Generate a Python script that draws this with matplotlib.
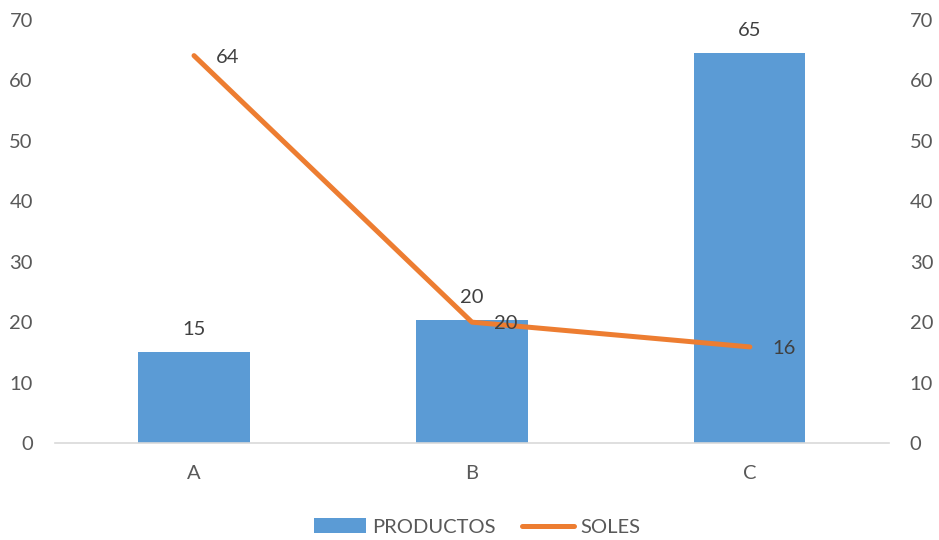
import matplotlib.pyplot as plt
import numpy as np

plt.rcParams['font.family'] = ['Lato', 'DejaVu Sans']

categories = ['A', 'B', 'C']
productos = [15, 20.4, 64.6]
soles = [64.1, 20.0, 15.9]

bar_color = '#5B9BD5'
line_color = '#ED7D31'
tick_color = '#595959'
label_color = '#404040'

fig = plt.figure(figsize=(9.39, 5.40), dpi=100)
ax = fig.add_axes([0.0586, 0.1796, 0.888, 0.7834])
ax2 = ax.twinx()

x = np.arange(len(categories))
bars = ax.bar(x, productos, width=0.4, color=bar_color, label='PRODUCTOS', zorder=2)
line, = ax2.plot(x, soles, color=line_color, linewidth=3.6, solid_capstyle='round',
                 label='SOLES', zorder=3)

for xi, v in zip(x, productos):
    ax.annotate(f'{v:.0f}', (xi, v), xytext=(0, 10), textcoords='offset points',
                ha='center', va='bottom', fontsize=14.5, color=label_color)
for xi, v in zip(x, soles):
    ax2.annotate(f'{v:.0f}', (xi, v), xytext=(16, -1), textcoords='offset points',
                 ha='left', va='center', fontsize=14.5, color=label_color)

for a in (ax, ax2):
    a.set_ylim(0, 70)
    a.set_yticks(range(0, 71, 10))
    a.set_xlim(-0.5, 2.5)
    for s in a.spines.values():
        s.set_visible(False)
    a.tick_params(length=0, labelsize=14.5, colors=tick_color)
ax.spines['bottom'].set_visible(True)
ax.spines['bottom'].set_color('#D9D9D9')
ax.spines['bottom'].set_linewidth(1.2)
ax.tick_params(axis='y', pad=16)
ax2.tick_params(axis='y', pad=15)
ax.tick_params(axis='x', pad=16)
ax.set_xticks(x)
ax.set_xticklabels(categories)
ax.set_zorder(ax2.get_zorder() - 1)
ax2.patch.set_visible(False)

fig.legend([bars, line], ['PRODUCTOS', 'SOLES'], loc='center',
           bbox_to_anchor=(0.508, 13 / 540), ncol=2, frameon=False, fontsize=14.5,
           labelcolor=tick_color, handlelength=2.6, columnspacing=1.3, handletextpad=0.3)

fig.savefig('out.png', dpi=100)
